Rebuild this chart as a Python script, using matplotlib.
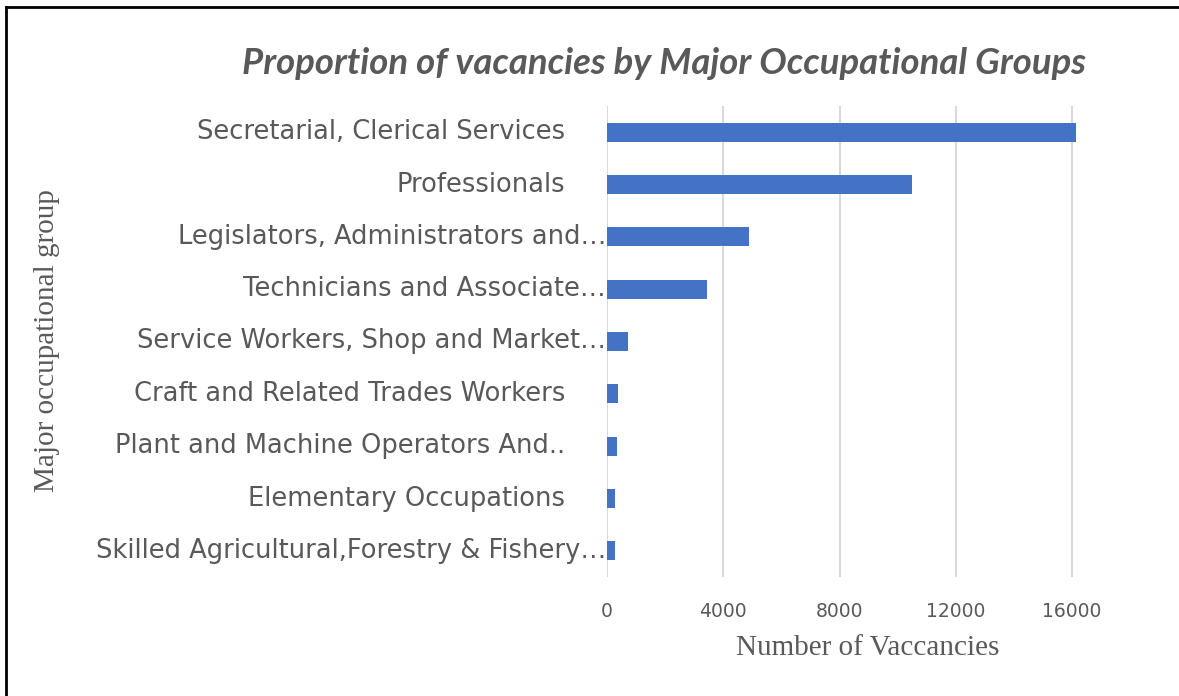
import matplotlib
matplotlib.use("Agg")
import matplotlib.pyplot as plt
from matplotlib.lines import Line2D

# data (top to bottom as in the chart)
groups = [
    "Secretarial, Clerical Services",
    "Professionals",
    "Legislators, Administrators and\u2026",
    "Technicians and Associate\u2026",
    "Service Workers, Shop and Market\u2026",
    "Craft and Related Trades Workers",
    "Plant and Machine Operators And..",
    "Elementary Occupations",
    "Skilled Agricultural,Forestry & Fishery\u2026",
]
truncated = [False, False, True, True, True, False, False, False, True]
vacancies = [16150, 10500, 4900, 3440, 720, 380, 360, 270, 270]
xticks = [0, 4000, 8000, 12000, 16000]

W, H = 1179, 696
grey = "#595959"
fig = plt.figure(figsize=(W / 100, H / 100), dpi=100)
ax = fig.add_axes([607 / W, 1 - 577 / H, (1165 - 607) / W, (577 - 106) / H])

ypos = list(range(len(groups)))
ax.barh(ypos, vacancies, height=0.36, color="#4472C4", zorder=3)
ax.set_ylim(len(groups) - 0.5, -0.5)
ax.set_xlim(0, 19200)
ax.set_xticks(xticks)
ax.set_xticklabels([str(t) for t in xticks], fontsize=13.5, color=grey, family="DejaVu Sans")
ax.tick_params(axis="x", length=0, pad=18)
ax.set_yticks([])
ax.grid(axis="x", color="#D9D9D9", linewidth=1.5, zorder=0)
for s in ax.spines.values():
    s.set_visible(False)

# category labels
for i, (g, t) in enumerate(zip(groups, truncated)):
    off = -1 if t else -42
    ax.annotate(g, xy=(0, i), xycoords=("axes fraction", "data"),
                xytext=(off, 0), textcoords="offset pixels",
                ha="right", va="center", fontsize=18.5, color=grey, family="DejaVu Sans")

fig.text(664 / W, 1 - 63 / H, "Proportion of vacancies by Major Occupational Groups",
         ha="center", va="center", fontsize=26.3, fontweight="bold", fontstyle="italic",
         color=grey, family="Lato")
fig.text(47 / W, 1 - 341 / H, "Major occupational group", rotation=90,
         ha="center", va="center", fontsize=21, color=grey, family="Liberation Serif")
fig.text(868 / W, 1 - 648 / H, "Number of Vaccancies",
         ha="center", va="center", fontsize=21, color=grey, family="Liberation Serif")

# border lines (top and left only)
fig.add_artist(Line2D([6 / W, 1], [1 - 7 / H, 1 - 7 / H], color="black", linewidth=2,
                      transform=fig.transFigure))
fig.add_artist(Line2D([6 / W, 6 / W], [0, 1 - 7 / H], color="black", linewidth=2,
                      transform=fig.transFigure))

fig.savefig("out.png", dpi=100)
